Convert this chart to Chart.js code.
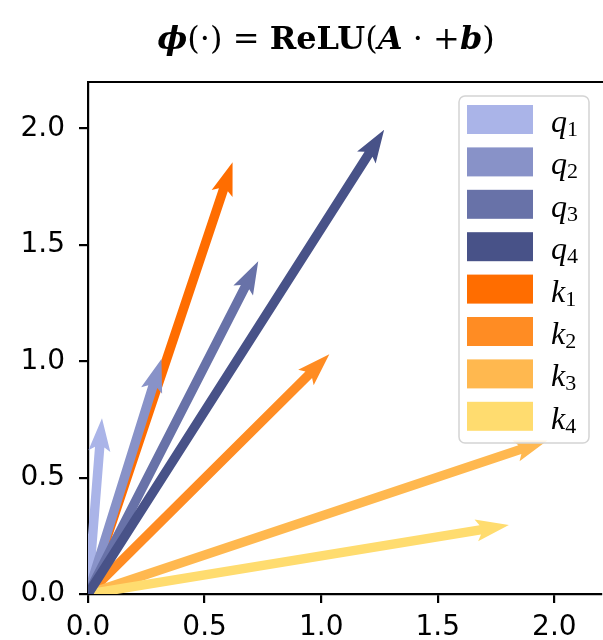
<!DOCTYPE html>
<html>
<head>
<meta charset="utf-8">
<script src="https://cdn.jsdelivr.net/npm/chart.js@4.4.0/dist/chart.umd.min.js"></script>
<style>
  body { margin: 0; background: #fff; }
</style>
</head>
<body>
<canvas id="myChart" width="603" height="640"></canvas>
<script>
// vectors, all drawn from the origin
const names = ['q1', 'q2', 'q3', 'q4', 'k1', 'k2', 'k3', 'k4'];
const xEnd = [0.06, 0.315, 0.73, 1.27, 0.62, 1.035, 1.97, 1.805];
const yEnd = [0.755, 1.01, 1.43, 1.995, 1.855, 1.03, 0.66, 0.296];
const colors = ['#aab4e8', '#8892c8', '#6872a8', '#485288',
                '#ff6d00', '#ff8c23', '#ffb84f', '#ffdc6f'];
const xTicks = [0, 0.5, 1.0, 1.5, 2.0];
const yTicks = [0, 0.5, 1.0, 1.5, 2.0];

const datasets = names.map((n, i) => ({
  label: n,
  data: [{x: 0, y: 0}, {x: xEnd[i], y: yEnd[i]}],
  pointRadius: 0,
  showLine: false,
  backgroundColor: colors[i],
  borderColor: colors[i]
}));

// quiver style arrow, tail at p0, tip at p1
function arrow(ctx, x0, y0, x1, y1, color) {
  const dx = x1 - x0, dy = y1 - y0;
  const L = Math.hypot(dx, dy);
  const ux = dx / L, uy = dy / L, px = -uy, py = ux;
  const w = 4.7, hw = 11, hl = 33, ha = 29;
  const at = (d, s) => [x0 + ux * d + px * s, y0 + uy * d + py * s];
  const pts = [at(0, w), at(L - ha, w), at(L - hl, hw), at(L, 0),
               at(L - hl, -hw), at(L - ha, -w), at(0, -w)];
  ctx.beginPath();
  pts.forEach((p, k) => k ? ctx.lineTo(p[0], p[1]) : ctx.moveTo(p[0], p[1]));
  ctx.closePath();
  ctx.fillStyle = color;
  ctx.fill();
}

const quiver = {
  id: 'quiver',
  afterDatasetsDraw(chart) {
    const ctx = chart.ctx, a = chart.chartArea;
    ctx.save();
    ctx.beginPath();
    ctx.rect(a.left, a.top, a.right - a.left, a.bottom - a.top);
    ctx.clip();
    // keys underneath, queries on top
    const order = [4, 5, 6, 7, 0, 1, 2, 3];
    order.forEach(i => {
      const pts = chart.getDatasetMeta(i).data;
      arrow(ctx, pts[0].x, pts[0].y, pts[1].x, pts[1].y, colors[i]);
    });
    ctx.restore();
  },
  afterDraw(chart) {
    const ctx = chart.ctx, a = chart.chartArea;
    ctx.save();
    // top spine
    ctx.strokeStyle = '#000';
    ctx.lineWidth = 2.2;
    ctx.beginPath();
    ctx.moveTo(a.left - 1, a.top);
    ctx.lineTo(chart.width, a.top);
    ctx.stroke();

    // title with mixed math styles
    const parts = [['ϕ', 'italic bold'], ['(·) = ', ''], ['ReLU', 'bold'], ['(', ''],
                   ['A', 'italic bold'], [' · +', ''], ['b', 'italic bold'], [')', '']];
    const fam = '32px "DejaVu Serif"';
    let total = 0;
    parts.forEach(p => { ctx.font = (p[1] + ' ' + fam).trim(); total += ctx.measureText(p[0]).width; });
    let x = 326 - total / 2;
    ctx.fillStyle = '#000';
    ctx.textBaseline = 'alphabetic';
    parts.forEach(p => {
      ctx.font = (p[1] + ' ' + fam).trim();
      ctx.fillText(p[0], x, 49);
      x += ctx.measureText(p[0]).width;
    });

    // legend
    const bx = 459, by = 96, bw = 130, bh = 347;
    ctx.beginPath();
    ctx.roundRect(bx, by, bw, bh, 6);
    ctx.fillStyle = 'rgba(255,255,255,0.85)';
    ctx.fill();
    ctx.strokeStyle = '#d4d4d4';
    ctx.lineWidth = 1.5;
    ctx.stroke();
    names.forEach((n, i) => {
      const top = 105 + i * 42.4;
      ctx.fillStyle = colors[i];
      ctx.fillRect(467, top, 66, 29);
      ctx.fillStyle = '#000';
      ctx.font = 'italic 32px "Liberation Serif"';
      ctx.fillText(n[0], 551, top + 27);
      const cw = ctx.measureText(n[0]).width;
      ctx.font = '22px "Liberation Serif"';
      ctx.fillText(n.slice(1), 551 + cw, top + 31);
    });
    ctx.restore();
  }
};

const tickFont = {family: '"DejaVu Sans"', size: 28};

const config = {
  type: 'scatter',
  data: { datasets },
  options: {
    responsive: false,
    animation: false,
    layout: { padding: { top: 82, right: 2, left: 0, bottom: 0 } },
    scales: {
      x: {
        type: 'linear',
        min: 0,
        max: 2.2,
        afterBuildTicks: s => { s.ticks = xTicks.map(v => ({value: v})); },
        afterFit: s => { s.height = 46; },
        ticks: { color: '#000', font: tickFont, padding: 8, callback: v => v.toFixed(1), maxRotation: 0 },
        grid: { display: true, drawOnChartArea: false, drawTicks: true, tickLength: 9, color: '#000', lineWidth: 2.2 },
        border: { display: true, color: '#000', width: 2.2 }
      },
      y: {
        type: 'linear',
        min: 0,
        max: 2.2,
        afterBuildTicks: s => { s.ticks = yTicks.map(v => ({value: v})); },
        afterFit: s => { s.width = 88; },
        ticks: { color: '#000', font: tickFont, padding: 14, callback: v => v.toFixed(1) },
        grid: { display: true, drawOnChartArea: false, drawTicks: true, tickLength: 9, color: '#000', lineWidth: 2.2 },
        border: { display: true, color: '#000', width: 2.2 }
      }
    },
    plugins: {
      legend: { display: false },
      tooltip: { enabled: false }
    }
  },
  plugins: [quiver]
};

const myChart = new Chart(document.getElementById('myChart'), config);
</script>
</body>
</html>
